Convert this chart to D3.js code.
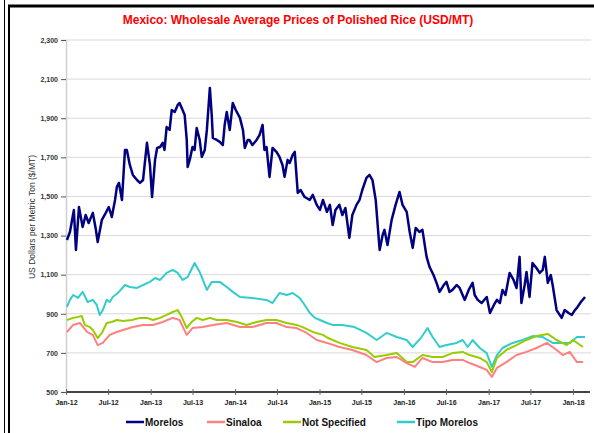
<!DOCTYPE html>
<html>
<head>
<meta charset="utf-8">
<script src="https://cdn.jsdelivr.net/npm/d3@7"></script>
<style>
  body { margin: 0; background: #fff; }
  svg { display: block; font-family: Arial, "Liberation Sans", sans-serif; }
</style>
</head>
<body>
<div id="chart"></div>
<script>

// series names and colours (legend order)
var seriesNames = ["Morelos", "Sinaloa", "Not Specified", "Tipo Morelos"],
  seriesColors = ["#000080", "#FF8080", "#99CC00", "#33CCCC"];

var yTicks = [500, 700, 900, 1100, 1300, 1500, 1700, 1900, 2100, 2300];

// weekly-ish readings, [date, USD/MT]
var morelos = [
  ["2012-01-05",1277],["2012-01-18",1318],["2012-02-04",1431],["2012-02-13",1226],["2012-02-26",1446],
  ["2012-03-13",1344],["2012-03-26",1405],["2012-04-08",1364],["2012-04-26",1416],["2012-05-08",1339],
  ["2012-05-17",1267],["2012-06-04",1380],["2012-06-21",1416],["2012-07-04",1446],["2012-07-17",1395],
  ["2012-07-31",1482],["2012-08-08",1549],["2012-08-17",1569],["2012-08-30",1482],["2012-09-12",1738],
  ["2012-09-20",1738],["2012-10-03",1661],["2012-10-16",1610],["2012-11-03",1584],["2012-11-16",1569],
  ["2012-11-29",1584],["2012-12-16",1774],["2012-12-29",1661],["2013-01-07",1497],["2013-01-20",1687],
  ["2013-01-29",1748],["2013-02-11",1753],["2013-02-22",1774],["2013-03-02",1738],["2013-03-11",1855],
  ["2013-03-24",1840],["2013-04-02",1942],["2013-04-15",1932],["2013-04-28",1968],["2013-05-06",1978],
  ["2013-05-19",1942],["2013-05-28",1917],["2013-06-06",1789],["2013-06-10",1651],["2013-06-19",1687],
  ["2013-07-01",1753],["2013-07-10",1738],["2013-07-19",1850],["2013-08-01",1789],["2013-08-10",1702],
  ["2013-08-23",1738],["2013-09-01",1840],["2013-09-14",2055],["2013-09-22",1917],["2013-09-27",1799],
  ["2013-10-14",1789],["2013-10-27",1779],["2013-11-09",1763],["2013-11-17",1866],["2013-11-26",1932],
  ["2013-12-09",1840],["2013-12-22",1978],["2014-01-04",1942],["2014-01-22",1902],["2014-02-04",1840],
  ["2014-02-12",1748],["2014-02-25",1789],["2014-03-04",1789],["2014-03-17",1763],["2014-04-04",1789],
  ["2014-04-17",1815],["2014-04-30",1866],["2014-05-08",1738],["2014-05-17",1753],["2014-05-30",1600],
  ["2014-06-12",1748],["2014-06-29",1728],["2014-07-12",1702],["2014-07-25",1661],["2014-08-03",1600],
  ["2014-08-16",1687],["2014-08-25",1671],["2014-09-07",1712],["2014-09-16",1728],["2014-09-29",1518],
  ["2014-10-11",1533],["2014-10-29",1497],["2014-11-20",1482],["2014-12-03",1508],["2014-12-20",1457],
  ["2015-01-03",1431],["2015-01-16",1482],["2015-02-02",1421],["2015-02-15",1457],["2015-02-27",1354],
  ["2015-03-11",1431],["2015-03-28",1457],["2015-04-10",1405],["2015-04-23",1441],["2015-05-10",1288],
  ["2015-05-23",1405],["2015-06-10",1457],["2015-06-23",1482],["2015-07-05",1533],["2015-07-23",1595],
  ["2015-08-05",1610],["2015-08-18",1584],["2015-09-01",1482],["2015-09-18",1226],["2015-10-01",1303],
  ["2015-10-09",1329],["2015-10-22",1252],["2015-11-09",1380],["2015-11-26",1457],["2015-12-13",1523],
  ["2015-12-26",1457],["2016-01-13",1421],["2016-01-26",1318],["2016-02-08",1237],["2016-02-21",1339],
  ["2016-03-08",1318],["2016-03-21",1329],["2016-04-08",1191],["2016-04-21",1139],["2016-05-08",1098],
  ["2016-05-21",1058],["2016-06-03",1012],["2016-06-21",1047],["2016-07-03",1063],["2016-07-16",1012],
  ["2016-07-29",1022],["2016-08-16",1047],["2016-08-29",1032],["2016-09-20",971],["2016-10-07",1022],
  ["2016-10-24",1058],["2016-11-02",996],["2016-11-15",971],["2016-12-02",955],["2016-12-24",986],
  ["2017-01-07",904],["2017-01-24",945],["2017-02-06",971],["2017-02-19",955],["2017-03-02",1022],
  ["2017-03-15",996],["2017-04-02",1109],["2017-04-19",1073],["2017-05-02",1032],["2017-05-15",1191],
  ["2017-05-23",955],["2017-06-06",1047],["2017-06-14",1114],["2017-06-27",986],["2017-07-10",1160],
  ["2017-07-27",1134],["2017-08-10",1109],["2017-08-23",1124],["2017-09-01",1191],["2017-09-14",1058],
  ["2017-09-27",1098],["2017-10-05",1047],["2017-10-22",919],["2017-11-13",879],["2017-11-26",919],
  ["2017-12-13",904],["2017-12-27",894],["2018-01-09",919],["2018-01-18",930],["2018-02-04",960],
  ["2018-02-22",986]
];

var sinaloa = [
  ["2012-01-05",807],["2012-02-01",843],["2012-03-01",853],["2012-04-01",807],["2012-04-26",792],
  ["2012-05-17",740],["2012-06-08",751],["2012-07-08",792],["2012-08-08",807],["2012-09-03",817],
  ["2012-10-16",832],["2012-11-29",843],["2013-01-11",843],["2013-02-22",858],["2013-04-06",879],
  ["2013-05-06",868],["2013-06-06",792],["2013-07-01",827],["2013-08-14",832],["2013-09-27",843],
  ["2013-11-26",853],["2014-01-22",832],["2014-03-17",832],["2014-05-17",853],["2014-06-29",853],
  ["2014-08-12",832],["2014-09-24",827],["2014-11-07",802],["2014-12-20",766],["2015-02-02",751],
  ["2015-03-28",730],["2015-05-23",715],["2015-07-23",689],["2015-09-05",653],["2015-10-18",674],
  ["2015-12-01",679],["2016-01-13",648],["2016-02-17",628],["2016-03-21",674],["2016-05-04",653],
  ["2016-06-16",653],["2016-07-29",664],["2016-09-11",664],["2016-10-11",648],["2016-11-24",628],
  ["2016-12-24",613],["2017-01-15",577],["2017-02-06",623],["2017-03-19",653],["2017-05-02",689],
  ["2017-06-14",705],["2017-07-27",725],["2017-09-10",751],["2017-10-22",715],["2017-11-18",689],
  ["2017-12-18",705],["2018-01-18",653],["2018-02-13",653]
];

var notSpecified = [
  ["2012-01-05",868],["2012-02-01",879],["2012-02-22",884],["2012-03-09",889],["2012-03-22",843],
  ["2012-04-13",832],["2012-04-26",817],["2012-05-17",776],["2012-06-04",802],["2012-06-25",853],
  ["2012-07-17",858],["2012-08-08",868],["2012-09-03",863],["2012-10-12",868],["2012-11-16",879],
  ["2012-12-16",879],["2013-01-11",868],["2013-02-11",879],["2013-03-11",894],["2013-04-06",909],
  ["2013-04-28",919],["2013-05-15",884],["2013-06-06",827],["2013-06-27",858],["2013-07-19",879],
  ["2013-08-14",868],["2013-09-14",879],["2013-10-14",868],["2013-11-26",868],["2014-01-09",858],
  ["2014-02-20",843],["2014-04-04",858],["2014-05-17",868],["2014-06-29",868],["2014-08-12",853],
  ["2014-09-24",843],["2014-10-20",832],["2014-12-03",807],["2015-01-16",792],["2015-02-07",776],
  ["2015-03-28",751],["2015-05-23",730],["2015-07-23",715],["2015-08-27",679],["2015-10-18",689],
  ["2015-12-01",699],["2016-01-13",653],["2016-02-08",653],["2016-03-21",689],["2016-05-04",679],
  ["2016-06-16",679],["2016-07-29",699],["2016-09-11",705],["2016-10-11",689],["2016-11-24",674],
  ["2016-12-24",653],["2017-01-15",602],["2017-02-06",674],["2017-03-19",715],["2017-05-02",740],
  ["2017-06-14",766],["2017-07-27",786],["2017-09-14",797],["2017-10-22",766],["2017-12-05",740],
  ["2018-01-01",766],["2018-02-13",730]
];

var tipoMorelos = [
  ["2012-01-05",935],["2012-01-18",971],["2012-02-01",996],["2012-02-22",981],["2012-03-13",1012],
  ["2012-04-04",960],["2012-04-26",971],["2012-05-13",945],["2012-05-26",894],["2012-06-08",919],
  ["2012-06-25",971],["2012-07-08",960],["2012-07-21",986],["2012-08-12",1006],["2012-09-12",1047],
  ["2012-10-03",1037],["2012-11-03",1032],["2012-11-29",1047],["2012-12-29",1063],["2013-01-20",1083],
  ["2013-02-11",1073],["2013-03-11",1109],["2013-04-06",1124],["2013-04-28",1109],["2013-05-19",1073],
  ["2013-06-10",1088],["2013-07-10",1160],["2013-08-01",1114],["2013-09-01",1022],["2013-09-22",1063],
  ["2013-10-27",1063],["2013-11-26",1037],["2013-12-22",1012],["2014-01-22",986],["2014-03-17",981],
  ["2014-05-17",971],["2014-06-12",955],["2014-07-12",1006],["2014-08-12",996],["2014-09-07",1006],
  ["2014-10-07",981],["2014-10-29",945],["2014-11-20",904],["2014-12-12",879],["2015-01-03",868],
  ["2015-02-02",853],["2015-02-27",843],["2015-04-10",843],["2015-06-01",832],["2015-07-23",802],
  ["2015-09-05",766],["2015-10-18",802],["2015-12-01",781],["2016-01-13",766],["2016-02-08",730],
  ["2016-03-17",781],["2016-04-12",827],["2016-05-04",781],["2016-06-03",730],["2016-07-03",740],
  ["2016-08-16",751],["2016-09-11",766],["2016-10-03",730],["2016-10-24",766],["2016-11-24",725],
  ["2016-12-24",699],["2017-01-15",628],["2017-02-06",689],["2017-03-02",725],["2017-04-15",751],
  ["2017-05-28",766],["2017-07-10",786],["2017-08-23",781],["2017-10-05",751],["2017-11-18",751],
  ["2017-12-18",751],["2018-01-18",781],["2018-02-22",781]
];

var allSeries = [morelos, sinaloa, notSpecified, tipoMorelos];

var W = 594, H = 433;
var margin = { top: 40, right: 3, bottom: 41, left: 66 };

var svg = d3.select("#chart")
  .append("svg")
  .attr("width", W)
  .attr("height", H);

// frame lines
svg.append("line").attr("x1", 4.5).attr("x2", 4.5).attr("y1", 0).attr("y2", H)
  .attr("stroke", "#000").attr("stroke-width", 1);
svg.append("line").attr("x1", 9).attr("x2", 9).attr("y1", 5).attr("y2", H)
  .attr("stroke", "#000").attr("stroke-width", 2);
svg.append("line").attr("x1", 8).attr("x2", W).attr("y1", 6).attr("y2", 6)
  .attr("stroke", "#000").attr("stroke-width", 3);

var parse = d3.utcParse("%Y-%m-%d");

var x = d3.scaleUtc()
  .domain([parse("2012-01-01"), parse("2018-01-01")])
  .range([66, 573]);
var y = d3.scaleLinear()
  .domain([500, 2300])
  .range([392, 40]);

// gridlines
svg.append("g")
  .selectAll("line")
  .data(yTicks.slice(1))
  .enter().append("line")
  .attr("x1", 66).attr("x2", 591)
  .attr("y1", function(d) { return y(d); })
  .attr("y2", function(d) { return y(d); })
  .attr("stroke", "#d9d9d9")
  .attr("stroke-width", 1);

// y axis
var yAxis = svg.append("g")
  .attr("transform", "translate(66,0)")
  .call(d3.axisLeft(y).tickValues(yTicks).tickSize(5).tickFormat(d3.format(",")));
yAxis.select(".domain").attr("stroke", "#d0d0d0").attr("stroke-width", 1.5);
yAxis.selectAll(".tick line").attr("stroke", "#555");
yAxis.selectAll("text")
  .attr("font-size", "7px")
  .attr("font-weight", "bold")
  .attr("fill", "#333")
  .attr("x", -8);

// x axis
var xTicks = d3.utcMonth.every(6).range(parse("2012-01-01"), parse("2018-02-01"));
var xAxis = svg.append("g")
  .attr("transform", "translate(0,392)")
  .call(d3.axisBottom(x).tickValues(xTicks).tickSize(3).tickFormat(d3.utcFormat("%b-%y")));
xAxis.select(".domain").attr("d", "M66,0H590").attr("stroke", "#444").attr("stroke-width", 2);
xAxis.selectAll(".tick line").attr("y1", -3).attr("y2", 3).attr("stroke", "#666");
xAxis.selectAll("text")
  .attr("font-size", "7px")
  .attr("font-weight", "bold")
  .attr("fill", "#222")
  .attr("y", 8);

// lines (draw lower ones first, Morelos on top)
var line = d3.line()
  .x(function(d) { return x(parse(d[0])); })
  .y(function(d) { return y(d[1]); });

[3, 2, 1, 0].forEach(function(i) {
  svg.append("path")
    .datum(allSeries[i])
    .attr("fill", "none")
    .attr("stroke", seriesColors[i])
    .attr("stroke-width", i == 0 ? 2.5 : 2)
    .attr("stroke-linejoin", "round")
    .attr("d", line);
});

// title
svg.append("text")
  .attr("x", 298).attr("y", 24)
  .attr("text-anchor", "middle")
  .attr("font-size", "12px")
  .attr("font-weight", "bold")
  .attr("fill", "#FF0000")
  .text("Mexico: Wholesale Average Prices of Polished Rice (USD/MT)");

// y title
svg.append("text")
  .attr("text-anchor", "middle")
  .attr("transform", "translate(35,217)rotate(-90)")
  .attr("font-size", "8.5px")
  .attr("fill", "#333")
  .text("US Dollars per Metric Ton ($/MT)");

// legend
var legX = [126, 207, 283, 397];
var leg = svg.append("g");
seriesNames.forEach(function(name, i) {
  leg.append("line")
    .attr("x1", legX[i]).attr("x2", legX[i] + 18)
    .attr("y1", 422).attr("y2", 422)
    .attr("stroke", seriesColors[i])
    .attr("stroke-width", 2.5);
  leg.append("text")
    .attr("x", legX[i] + 19).attr("y", 425.5)
    .attr("font-size", "10px")
    .attr("font-weight", "bold")
    .attr("fill", "#111")
    .text(name);
});

</script>
</body>
</html>
